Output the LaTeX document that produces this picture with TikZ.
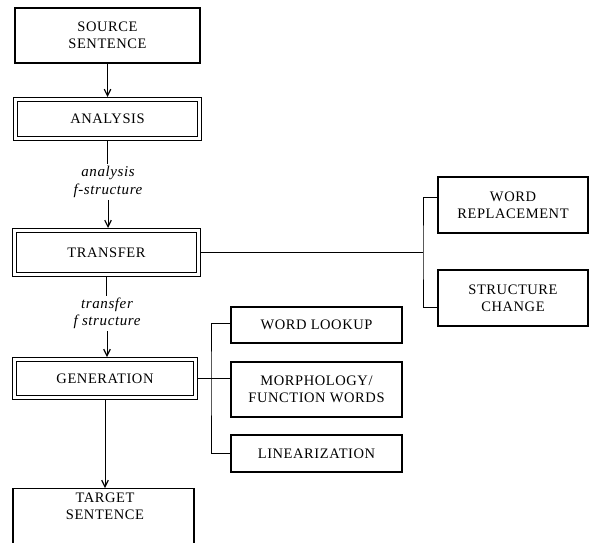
\documentclass[tikz,border=0pt]{standalone}
\usepackage{fontspec}
\setmainfont{Liberation Serif}
\usetikzlibrary{arrows.meta,calc}
\begin{document}
\begin{tikzpicture}[x=1pt,y=-1pt,
  capsfont/.style={font=\fontsize{14.5}{17}\selectfont\addfontfeatures{LetterSpace=4}},
  box/.style={draw, line width=1.4pt, rectangle, inner sep=0pt, align=center, capsfont},
  dbox/.style={box, double, line width=1.2pt, double distance=2.6pt, outer sep=2.5pt},
  lab/.style={font=\fontsize{15}{17.5}\selectfont\itshape\addfontfeatures{LetterSpace=4}, align=center, inner sep=2pt},
  conn/.style={line width=1pt},
  arr/.style={conn, -{Straight Barb[length=6.5pt,width=6.5pt,line width=1.2pt]}}]
\useasboundingbox (0,0) rectangle (589,543);
\clip (0,0) rectangle (589,543);

\node[box, minimum width=185pt, minimum height=55pt] (source) at (107.5,35.5) {SOURCE\\SENTENCE};
\node[dbox, minimum width=184pt, minimum height=39pt] (analysis) at (107.5,119) {ANALYSIS};
\node[lab] (alab) at (108,182) {analysis\\f-structure};
\node[dbox, minimum width=184pt, minimum height=44pt] (transfer) at (106.5,252.5) {TRANSFER};
\node[lab] (tlab) at (107,313.5) {transfer\\f structure};
\node[dbox, minimum width=181pt, minimum height=38pt] (generation) at (105,378.5) {GENERATION};
\node[box, minimum width=181pt, minimum height=80pt, anchor=north] (target) at (103.5,488) {};
\node[capsfont, align=center, inner sep=0pt] (targettext) at (105,506.5) {TARGET\\SENTENCE};

\node[box, minimum width=150pt, minimum height=56pt] (wr) at (513,205) {WORD\\REPLACEMENT};
\node[box, minimum width=150pt, minimum height=56pt] (sc) at (513,298) {STRUCTURE\\CHANGE};

\node[box, minimum width=171pt, minimum height=36pt] (wl) at (316.5,325) {WORD LOOKUP};
\node[box, minimum width=171pt, minimum height=55pt] (morph) at (316.5,389.5) {MORPHOLOGY/\\FUNCTION WORDS};
\node[box, minimum width=171pt, minimum height=37pt] (lin) at (316.5,453.5) {LINEARIZATION};

\draw[arr] (source.south) -- (source.south |- analysis.north);
\draw[conn] (analysis.south) -- (analysis.south |- alab.north);
\draw[arr] (alab.south) -- (alab.south |- transfer.north);
\draw[conn] (transfer.south) -- (transfer.south |- tlab.north);
\draw[arr] (tlab.south) -- (tlab.south |- generation.north);
\draw[arr] (generation.south) -- (generation.south |- target.north);

\coordinate (b1) at (423,252.5);
\draw[conn] (transfer.east) -- (b1);
\draw[conn] ($(wr.west)+(0,-8)$) -| (b1) |- ($(sc.west)+(0,9)$);

\coordinate (b2) at (211,378.5);
\draw[conn] (generation.east) -- (generation.east -| morph.west);
\draw[conn] ($(wl.west)+(0,-2)$) -| (b2) |- (lin.west);
\end{tikzpicture}
\end{document}
